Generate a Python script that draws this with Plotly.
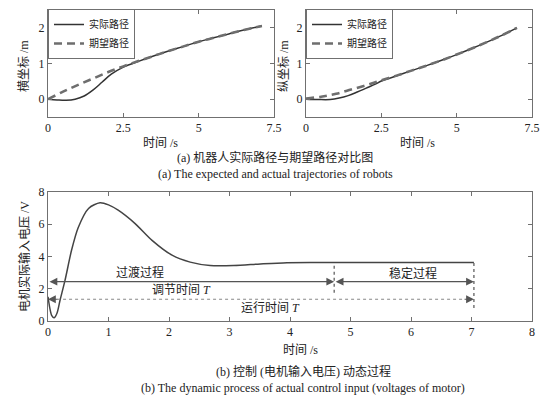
import plotly.graph_objects as go

# ---------------- data ----------------
# (a) left: abscissa
t_des_x = [0, 0.5, 1.0, 1.5, 2.0, 2.5, 3.0, 3.5, 4.0, 4.5, 5.0, 5.5, 6.0, 6.5, 7.1]
x_des = [0, 0.21, 0.40, 0.58, 0.76, 0.92, 1.07, 1.21, 1.35, 1.48, 1.61, 1.72, 1.83, 1.94, 2.05]
t_act_x = [0, 0.3, 0.6, 0.9, 1.2, 1.5, 1.8, 2.1, 2.5, 3.0, 3.5, 4.0, 4.5, 5.0, 5.5, 6.0, 6.5, 7.1]
x_act = [0, -0.02, -0.03, 0.0, 0.09, 0.26, 0.48, 0.70, 0.90, 1.06, 1.21, 1.35, 1.48, 1.61, 1.72, 1.83, 1.94, 2.05]

# (a) right: ordinate
t_des_y = [0, 0.5, 1.0, 1.5, 2.0, 2.5, 3.0, 3.5, 4.0, 4.5, 5.0, 5.5, 6.0, 6.5, 7.0]
y_des = [0.02, 0.07, 0.15, 0.27, 0.39, 0.53, 0.66, 0.80, 0.94, 1.09, 1.25, 1.42, 1.60, 1.79, 2.0]
t_act_y = [0, 0.4, 0.8, 1.1, 1.4, 1.7, 2.0, 2.3, 2.5, 3.0, 3.5, 4.0, 4.5, 5.0, 5.5, 6.0, 6.5, 7.0]
y_act = [0, -0.01, -0.01, 0.03, 0.10, 0.20, 0.31, 0.42, 0.51, 0.65, 0.80, 0.94, 1.09, 1.25, 1.42, 1.60, 1.79, 2.0]

# (b) control input voltage
t_v = [0, 0.03, 0.06, 0.1, 0.15, 0.2, 0.28, 0.39, 0.5, 0.67, 0.86, 1.0, 1.16, 1.44,
       1.72, 2.05, 2.35, 2.68, 3.07, 3.51, 3.95, 4.5, 5.5, 6.5, 7.04]
v = [1.5, 0.8, 0.35, 0.2, 0.5, 1.3, 2.5, 4.4, 5.8, 6.98, 7.33, 7.2, 6.87, 6.04,
     5.0, 4.08, 3.65, 3.44, 3.44, 3.54, 3.62, 3.63, 3.63, 3.63, 3.63]

t_settle = 4.73   # 调节时间
t_run = 7.04      # 运行时间
y_arrow1 = 2.44
y_arrow2 = 1.35

top_xticks = [0, 2.5, 5, 7.5]
top_xticklabels = ["0", "2.5", "5", "7.5"]
top_yticks = [0, 1, 2]
bot_ticks = [0, 1, 2, 3, 4, 5, 6, 7, 8]

# ---------------- figure ----------------
OFF = 8  # page body margin
W, H = 555 - OFF, 397 - OFF
FONT = "Liberation Serif, Times New Roman, Noto Sans CJK SC"
C_ACT = "#333333"
C_DES = "#6e6e6e"

def px_x(p):
    return (p - OFF) / W

def px_y(p):
    return 1 - (p - OFF) / H

fig = go.Figure()

fig.add_trace(go.Scatter(x=t_act_x, y=x_act, mode="lines", name="实际路径",
                         line=dict(color=C_ACT, width=1.5, shape="spline"),
                         xaxis="x", yaxis="y", legend="legend"))
fig.add_trace(go.Scatter(x=t_des_x, y=x_des, mode="lines", name="期望路径",
                         line=dict(color=C_DES, width=2.6, dash="8px,5px", shape="spline"),
                         xaxis="x", yaxis="y", legend="legend"))
fig.add_trace(go.Scatter(x=t_act_y, y=y_act, mode="lines", name="实际路径",
                         line=dict(color=C_ACT, width=1.5, shape="spline"),
                         xaxis="x2", yaxis="y2", legend="legend2"))
fig.add_trace(go.Scatter(x=t_des_y, y=y_des, mode="lines", name="期望路径",
                         line=dict(color=C_DES, width=2.6, dash="8px,5px", shape="spline"),
                         xaxis="x2", yaxis="y2", legend="legend2"))
fig.add_trace(go.Scatter(x=t_v, y=v, mode="lines", showlegend=False,
                         line=dict(color="#444444", width=1.5, shape="spline", smoothing=0.8),
                         xaxis="x3", yaxis="y3"))

axis_common = dict(showline=True, mirror="ticks", linecolor="#707070", linewidth=1,
                   ticks="inside", ticklen=4, tickcolor="#707070", showgrid=False,
                   zeroline=False, automargin=False,
                   tickfont=dict(family=FONT, size=12, color="#222"))

dom_top = [px_y(117), px_y(10)]
fig.update_layout(
    width=W, height=H,
    margin=dict(l=0, r=0, t=0, b=0, autoexpand=False),
    paper_bgcolor="white", plot_bgcolor="white",
    font=dict(family=FONT, size=12, color="#222"),
    xaxis=dict(domain=[px_x(48), px_x(274)], range=[0, 7.5], tickvals=top_xticks,
               ticktext=top_xticklabels, anchor="y", **axis_common),
    yaxis=dict(domain=dom_top, range=[-0.5, 2.5], tickvals=top_yticks, anchor="x", **axis_common),
    xaxis2=dict(domain=[px_x(306), px_x(532)], range=[0, 7.5], tickvals=top_xticks,
                ticktext=top_xticklabels, anchor="y2", **axis_common),
    yaxis2=dict(domain=dom_top, range=[-0.5, 2.5], tickvals=top_yticks, anchor="x2", **axis_common),
    xaxis3=dict(domain=[px_x(48), px_x(532)], range=[0, 8], tickvals=bot_ticks, anchor="y3", **axis_common),
    yaxis3=dict(domain=[px_y(321), px_y(192)], range=[0, 8], tickvals=[0, 2, 4, 6, 8], anchor="x3", **axis_common),
    legend=dict(x=px_x(48), y=px_y(9), xanchor="left", yanchor="top",
                bgcolor="white", bordercolor="#707070", borderwidth=1,
                font=dict(family=FONT, size=10, color="#222"), itemwidth=30,
                tracegroupgap=0),
    legend2=dict(x=px_x(306), y=px_y(9), xanchor="left", yanchor="top",
                 bgcolor="white", bordercolor="#707070", borderwidth=1,
                 font=dict(family=FONT, size=10, color="#222"), itemwidth=30,
                 tracegroupgap=0),
)

ann = []
def text(x, y, s, size=12, angle=0, xref="paper", yref="paper"):
    ann.append(dict(x=x, y=y, xref=xref, yref=yref, text=s, showarrow=False,
                    textangle=angle, font=dict(family=FONT, size=size, color="#222"),
                    xanchor="center", yanchor="middle"))

# axis titles
text(px_x(160), px_y(143), "时间 /s", 12)
text(px_x(417), px_y(143), "时间 /s", 12)
text(px_x(300), px_y(350), "时间 /s", 12)
text(px_x(24), px_y(66), "横坐标 /m", 12, -90)
text(px_x(284), px_y(66), "纵坐标 /m", 12, -90)
text(px_x(24), px_y(257), "电机实际输入电压 /V", 12, -90)

# captions
text(px_x(275), px_y(157), "(a) 机器人实际路径与期望路径对比图", 12)
text(px_x(275), px_y(174), "(a) The expected and actual trajectories of robots", 12)
text(px_x(303), px_y(371), "(b) 控制 (电机输入电压) 动态过程", 12)
text(px_x(303), px_y(388), "(b) The dynamic process of actual control input (voltages of motor)", 12)

# bottom panel labels
text(1.52, 3.0, "过渡过程", 12, xref="x3", yref="y3")
text(2.2, 1.9, "调节时间 <i>T</i>", 12, xref="x3", yref="y3")
text(3.67, 0.8, "运行时间 <i>T</i>", 12, xref="x3", yref="y3")
text(6.03, 2.95, "稳定过程", 12, xref="x3", yref="y3")

ARC = "#555555"
# double-headed solid arrows
for (xa, xb) in [(0, t_settle), (t_settle, t_run)]:
    ann.append(dict(x=xb, y=y_arrow1, ax=xa, ay=y_arrow1, xref="x3", yref="y3",
                    axref="x3", ayref="y3", text="", showarrow=True,
                    arrowhead=2, arrowside="end+start", arrowsize=1.3,
                    arrowwidth=1.2, arrowcolor=ARC))
# arrowheads for the dotted run-time line
for (xh, xt) in [(0, 0.18), (t_run, t_run - 0.18)]:
    ann.append(dict(x=xh, y=y_arrow2, ax=xt, ay=y_arrow2, xref="x3", yref="y3",
                    axref="x3", ayref="y3", text="", showarrow=True,
                    arrowhead=2, arrowsize=1.3, arrowwidth=1.2, arrowcolor=ARC))

fig.update_layout(annotations=ann)

shapes = [
    dict(type="line", xref="x3", yref="y3", x0=0.15, x1=t_run - 0.15, y0=y_arrow2, y1=y_arrow2,
         line=dict(color="#888888", width=1.2, dash="dot")),
    dict(type="line", xref="x3", yref="y3", x0=t_settle, x1=t_settle, y0=1.75, y1=3.62,
         line=dict(color="#555555", width=1.2, dash="dot")),
    dict(type="line", xref="x3", yref="y3", x0=t_run, x1=t_run, y0=0.8, y1=3.63,
         line=dict(color="#555555", width=1.2, dash="dot")),
]
fig.update_layout(shapes=shapes)

fig.write_html("out.html")
